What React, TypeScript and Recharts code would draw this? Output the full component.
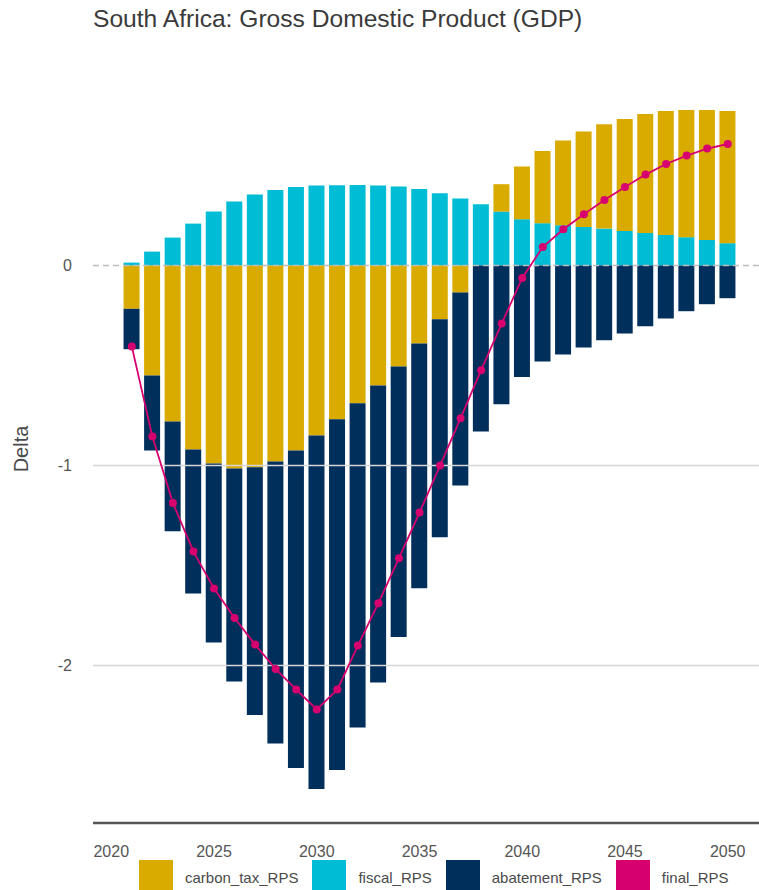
import React from 'react';
import {
  ComposedChart,
  Bar,
  Line,
  XAxis,
  YAxis,
  ReferenceLine,
} from 'recharts';

// ── data ────────────────────────────────────────────────

const years = [
  2020, 2021, 2022, 2023, 2024, 2025, 2026, 2027, 2028, 2029, 2030,
  2031, 2032, 2033, 2034, 2035, 2036, 2037, 2038, 2039, 2040,
  2041, 2042, 2043, 2044, 2045, 2046, 2047, 2048, 2049, 2050,
];

const fiscalRPS = [
  null, 0.015, 0.07, 0.14, 0.21, 0.27, 0.32, 0.355, 0.378, 0.393, 0.4,
  0.402, 0.403, 0.4, 0.395, 0.383, 0.362, 0.335, 0.307, 0.27, 0.232,
  0.212, 0.202, 0.193, 0.185, 0.173, 0.163, 0.153, 0.142, 0.128, 0.112,
];

const carbonTaxRPS = [
  null, -0.216, -0.55, -0.78, -0.92, -0.99, -1.015, -1.008, -0.98, -0.925, -0.85,
  -0.768, -0.688, -0.6, -0.505, -0.39, -0.268, -0.135, 0, 0.137, 0.263,
  0.361, 0.423, 0.477, 0.522, 0.56, 0.595, 0.62, 0.636, 0.65, 0.661,
];

const abatementRPS = [
  null, -0.202, -0.375, -0.548, -0.72, -0.895, -1.065, -1.239, -1.41, -1.587, -1.767,
  -1.754, -1.622, -1.485, -1.352, -1.223, -1.09, -0.965, -0.83, -0.693, -0.557,
  -0.48, -0.445, -0.41, -0.373, -0.34, -0.303, -0.265, -0.228, -0.193, -0.163,
];

const finalRPS = [
  null, -0.405, -0.855, -1.187, -1.43, -1.615, -1.762, -1.895, -2.017, -2.12, -2.219,
  -2.12, -1.9, -1.688, -1.463, -1.235, -1.0, -0.763, -0.523, -0.29, -0.062,
  0.093, 0.182, 0.257, 0.328, 0.393, 0.455, 0.508, 0.55, 0.585, 0.608,
];

const yTicks = [-2, -1, 0];
const gridValues = [-2, -1];

const COLORS = {
  carbon_tax_RPS: '#D9AA00',
  fiscal_RPS: '#00BDD5',
  abatement_RPS: '#002F5C',
  final_RPS: '#D7006F',
};

const legendItems = ['carbon_tax_RPS', 'fiscal_RPS', 'abatement_RPS', 'final_RPS'] as const;

const data = years.map((year, i) => ({
  year,
  fiscal_RPS: fiscalRPS[i],
  carbon_tax_RPS: carbonTaxRPS[i],
  abatement_RPS: abatementRPS[i],
  final_RPS: finalRPS[i],
}));

const FONT = '"Liberation Sans", Arial, sans-serif';

// ── chart ───────────────────────────────────────────────

export default function App() {
  return (
    <div style={{ position: 'absolute', left: 0, top: 0, width: 759, height: 890, fontFamily: FONT, overflow: 'hidden', background: '#fff' }}>
      <div style={{
        position: 'absolute', left: 93, top: 7, fontSize: 24.6, lineHeight: '24px',
        color: '#3a3a3a', whiteSpace: 'nowrap',
      }}>
        South Africa: Gross Domestic Product (GDP)
      </div>

      <div style={{
        position: 'absolute', left: 21, top: 449, fontSize: 20, lineHeight: '20px',
        color: '#4a4a4a', transform: 'translate(-50%, -50%) rotate(-90deg)', whiteSpace: 'nowrap',
      }}>
        Delta
      </div>

      <ComposedChart
        width={759}
        height={890}
        data={data}
        stackOffset="sign"
        barSize={16}
        margin={{ top: 76, right: 0, left: 0, bottom: 0 }}
      >
        <XAxis
          dataKey="year"
          type="category"
          interval={4}
          height={67}
          padding={{ left: 8, right: 21 }}
          tickSize={0}
          tickMargin={23}
          tick={{ fill: '#555', fontSize: 16 }}
          axisLine={{ stroke: '#555', strokeWidth: 2.5 }}
          tickLine={false}
        />
        <YAxis
          type="number"
          domain={[-2.787, 0.948]}
          ticks={yTicks}
          allowDataOverflow
          width={93}
          tickSize={0}
          tickMargin={21}
          tick={{ fill: '#555', fontSize: 16 }}
          axisLine={false}
          tickLine={false}
        />

        {gridValues.map(v => (
          <ReferenceLine key={v} y={v} stroke="#d6d6d6" strokeWidth={1.5} />
        ))}

        <Bar dataKey="fiscal_RPS" stackId="a" fill={COLORS.fiscal_RPS} isAnimationActive={false} />
        <Bar dataKey="carbon_tax_RPS" stackId="a" fill={COLORS.carbon_tax_RPS} isAnimationActive={false} />
        <Bar dataKey="abatement_RPS" stackId="a" fill={COLORS.abatement_RPS} isAnimationActive={false} />

        <ReferenceLine y={0} stroke="#bdbdbd" strokeWidth={1.5} strokeDasharray="6 4" />

        <Line
          type="linear"
          dataKey="final_RPS"
          stroke={COLORS.final_RPS}
          strokeWidth={1.8}
          dot={{ r: 4, fill: COLORS.final_RPS, stroke: 'none' }}
          activeDot={false}
          isAnimationActive={false}
        />
      </ComposedChart>

      {/* legend */}
      <div style={{ position: 'absolute', left: 139, top: 860, display: 'flex', alignItems: 'flex-start' }}>
        {legendItems.map(name => (
          <div key={name} style={{ display: 'flex', alignItems: 'center', marginRight: 14 }}>
            <span style={{ width: 34, height: 34, background: COLORS[name], display: 'inline-block' }} />
            <span style={{ marginLeft: 12, fontSize: 15, color: '#4a4a4a' }}>{name}</span>
          </div>
        ))}
      </div>
    </div>
  );
}
